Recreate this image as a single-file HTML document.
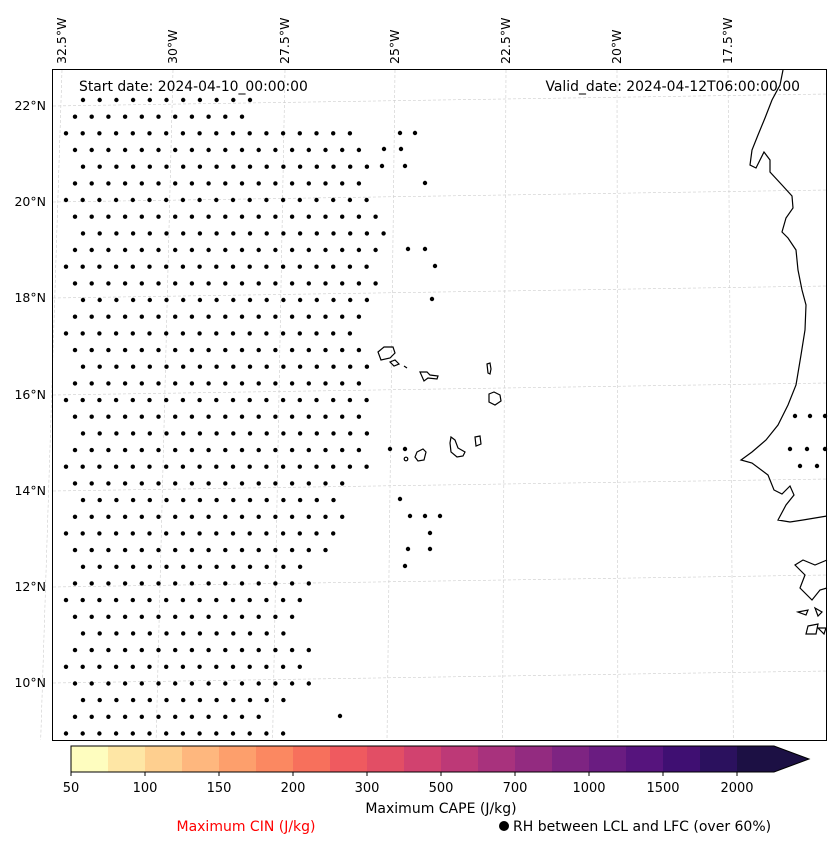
<!DOCTYPE html>
<html><head><meta charset="utf-8"><style>
body{margin:0;background:#fff;font-family:"Liberation Sans","DejaVu Sans",sans-serif;}
svg{display:block}
</style></head><body>
<svg id="chart" width="837" height="845" viewBox="0 0 837 845" xmlns="http://www.w3.org/2000/svg" font-family="'DejaVu Sans','Liberation Sans',sans-serif">
<g id="grid"></g>
<g id="dots"></g>
<g fill="none" stroke="#000" stroke-width="1.2">
<path d="M783,70 L780,85 L772,100 L765,118 L758,135 L752,150 L750,165 L756,168 L764,152 L770,160 L770,172 L782,185 L792,196 L793,208 L786,218 L782,232 L788,238 L796,250 L798,270 L802,290 L806,305 L805,330 L801,355 L796,385 L788,405 L778,425 L766,440 L752,452 L741,460 L752,463 L768,475 L774,490 L782,494 L790,486 L794,495 L786,505 L778,520 L790,522 L803,520 L815,518 L827,516"/>
<path d="M827,560 L815,565 L803,560 L795,565 L805,575 L800,588 L812,600 L820,590 L827,588"/>
<path d="M798,612 L808,610 L806,615 Z M815,608 L822,612 L818,616 Z M808,626 L818,624 L816,634 L806,634 Z M818,628 L826,628 L824,634 Z"/>
<path d="M378,352 L384,347 L393,347 L395,353 L390,358 L381,360 Z"/>
<path d="M390,362 L395,360 L399,364 L394,366 Z"/>
<path d="M404,366 L407,368"/>
<path d="M420,372 L427,372 L430,375 L438,376 L437,379 L428,378 L424,381 Z"/>
<path d="M487,364 L490,363 L491,369 L490,374 L488,373 Z"/>
<path d="M489,394 L494,392 L500,395 L501,401 L495,405 L489,402 Z"/>
<path d="M475,437 L480,436 L481,444 L476,446 Z"/>
<path d="M451,437 L455,440 L458,448 L465,452 L463,456 L457,457 L451,452 L450,443 Z"/>
<path d="M417,452 L423,449 L426,452 L424,460 L418,461 L415,457 Z"/>
<circle cx="406" cy="459" r="1.8"/>
</g>
<rect x="52.5" y="69.5" width="774" height="671" fill="none" stroke="#000" stroke-width="1"/>
<g id="ticks" font-size="12" fill="#000"></g>
<text x="79" y="91" font-size="13.9">Start date: 2024-04-10_00:00:00</text>
<text x="800" y="91" font-size="13.9" text-anchor="end">Valid_date: 2024-04-12T06:00:00.00</text>
<g id="cbar"></g>
<text x="441" y="813" font-size="14" text-anchor="middle">Maximum CAPE (J/kg)</text>
<text x="246" y="831" font-size="14" text-anchor="middle" fill="#ff0000">Maximum CIN (J/kg)</text>
<circle cx="504" cy="826" r="5" fill="#000"/>
<text x="513" y="831" font-size="14">RH between LCL and LFC (over 60%)</text>
</svg>
<script>
const lonLabels=["32.5°W","30°W","27.5°W","25°W","22.5°W","20°W","17.5°W"];
const lonTopX=[62,173,285,395,506,617,728];
const latLabels=["22°N","20°N","18°N","16°N","14°N","12°N","10°N"];
const latLeftY=[106,202,298,395,491,587,683];
const cbarColors=["#fefdbf","#fee6a5","#fecf8f","#feb77e","#fd9f6c","#fb8861","#f7705c","#ef5a5f","#e24e65","#d1426f","#bd3977","#a8327d","#932b80","#7e2482","#6a1c81","#56147d","#3f0f72","#2b115e","#1c1044"];
const cbarTicks=["50","100","150","200","300","500","700","1000","1500","2000"];
const rowRight=[266,256,350,365,375,372,372,390,390,390,380,380,375,375,355,375,380,375,375,375,375,375,380,355,340,350,345,330,315,315,300,300,300,315,315,325,300,265,285];
const extraDots=[[133,400],[133,415],[149,384],[149,401],[166,382],[166,405],[183,425],[249,408],[249,425],[266,435],[299,432],[449,390],[449,405],[499,400],[516,410],[516,425],[516,440],[533,430],[549,408],[549,430],[566,405],[716,340],[416,795],[416,810],[416,825],[449,790],[449,807],[449,825],[466,800],[466,817]];
const NS="http://www.w3.org/2000/svg";
function mk(tag,attrs,parent){const e=document.createElementNS(NS,tag);for(const k in attrs)e.setAttribute(k,attrs[k]);parent.appendChild(e);return e;}
const grid=document.getElementById('grid'),ticks=document.getElementById('ticks'),dots=document.getElementById('dots'),cbar=document.getElementById('cbar');
lonTopX.forEach((x,i)=>{
 const bx=x+(x-395)*0.04-8;
 const l=mk('line',{x1:x,y1:70,x2:bx,y2:740,stroke:'#ccc','stroke-width':0.6,'stroke-dasharray':'3,2'},grid);
 
 
 const t=mk('text',{x:0,y:0,transform:`translate(${x+4},64) rotate(-90)`,'font-size':12.5},ticks);
 t.textContent=lonLabels[i];
 
 
});
latLeftY.forEach((y,i)=>{
 const l=mk('line',{x1:53,y1:y,x2:827,y2:y-12,stroke:'#ccc','stroke-width':0.6,'stroke-dasharray':'3,2'},grid);
 
 
 const t=mk('text',{x:46,y:y+4,'text-anchor':'end','font-size':12.5},ticks);
 t.textContent=latLabels[i];
 
 
});
rowRight.forEach((r,i)=>{
 const y=100+i*16.67;
 const start=(i%2===0)?66+(i%4===0?17:0):75;
 for(let x=start;x<=r;x+=16.7){
  const c=mk('circle',{cx:x.toFixed(1),cy:y.toFixed(1),r:2.2,fill:'#000'},dots);
  
  
 }
});
extraDots.forEach(d=>{
 const c=mk('circle',{cx:d[1],cy:d[0],r:2.2,fill:'#000'},dots);
 
 
});
const cx0=71,cx1=774,cy=746,ch=26,seg=(cx1-cx0)/cbarColors.length;
cbarColors.forEach((c,i)=>{
 const r=mk('rect',{x:cx0+i*seg,y:cy,width:seg+0.5,height:ch,fill:c},cbar);
 
 
});
const tri=mk('polygon',{points:`${cx1},${cy} ${cx1+35},${cy+ch/2} ${cx1},${cy+ch}`,fill:cbarColors[cbarColors.length-1]},cbar);


const ol=mk('polygon',{points:`${cx0},${cy} ${cx1},${cy} ${cx1+35},${cy+ch/2} ${cx1},${cy+ch} ${cx0},${cy+ch}`,fill:'none',stroke:'#000','stroke-width':1},cbar);


cbarTicks.forEach((t,i)=>{
 const x=cx0+i*2*seg;
 mk('line',{x1:x,y1:cy+ch,x2:x,y2:cy+ch+4,stroke:'#000'},cbar);
 const tx=mk('text',{x:x,y:cy+ch+20,'text-anchor':'middle','font-size':13},cbar);
 tx.textContent=t;
 
 
});
</script>
</body></html>
